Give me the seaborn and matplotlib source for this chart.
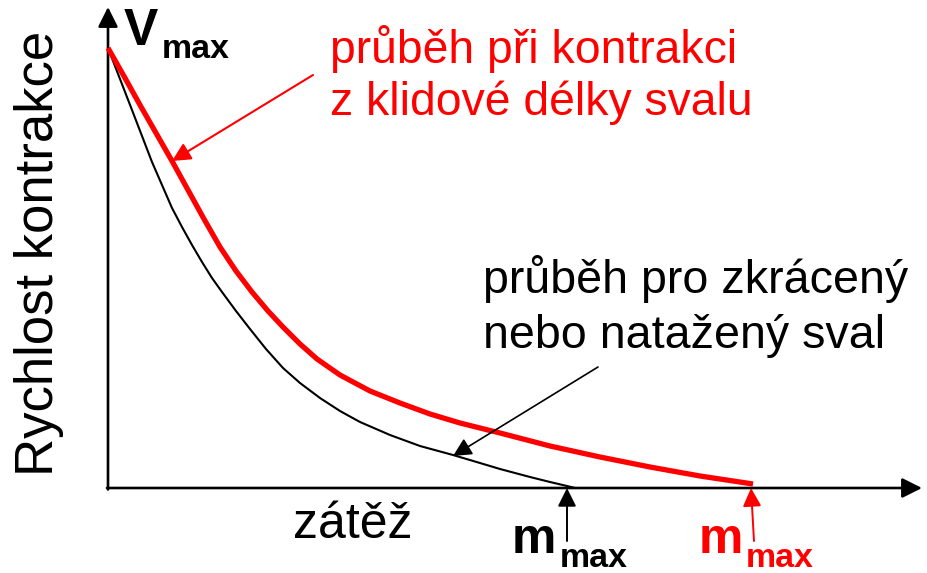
import matplotlib
matplotlib.use("Agg")
import matplotlib.pyplot as plt
import seaborn as sns
import pandas as pd

# ---- data (load vs. contraction speed, arbitrary units) ----
load_rest = [0, 17, 32, 48, 64, 80, 96, 112, 128, 144, 160, 175, 192, 209, 232,
             262, 292, 322, 352, 392, 442, 492, 542, 592, 645]
speed_rest = [440, 410, 383, 355, 327, 298, 269, 241, 217, 196, 177, 161, 144,
              129, 113, 97, 85, 74, 65, 55, 42, 31, 21, 12, 4]

load_short = [0, 12, 24, 34, 44, 54, 64, 74, 84, 94, 104, 114, 128, 142, 158,
              175, 192, 212, 232, 252, 282, 312, 345, 372, 392, 422, 442, 459, 467]
speed_short = [440, 409, 378, 352, 326, 303, 280, 261, 243, 226, 210, 196, 177,
               159, 139, 120, 105, 90, 77, 66, 53, 42, 33, 25, 19, 11, 6, 2, 0]

m_max_short = 459
m_max_rest = 643

ylabel_text = "Rychlost kontrakce"
xlabel_text = "zátěž"
red_label = "průběh při kontrakci\nz klidové délky svalu"
black_label = "průběh pro zkrácený\nnebo natažený sval"

sns.set_theme(style="white")
plt.rcParams["font.family"] = ["Liberation Sans", "DejaVu Sans"]

fig = plt.figure(figsize=(9.28, 5.73), dpi=100)
ax = fig.add_axes([0, 0, 1, 1])
ax.set_xlim(-108, 820)
ax.set_ylim(-85, 488)
ax.axis("off")


def P(xp, yp):
    return (xp - 108, 488 - yp)


df_rest = pd.DataFrame({"load": load_rest, "speed": speed_rest})
df_short = pd.DataFrame({"load": load_short, "speed": speed_short})
sns.lineplot(data=df_short, x="load", y="speed", ax=ax, color="black", lw=1.5,
             legend=False, zorder=3)
sns.lineplot(data=df_rest, x="load", y="speed", ax=ax, color="#ff0000", lw=3.8,
             legend=False, zorder=4, solid_capstyle="butt")

ax_kw = dict(arrowstyle="-|>", mutation_scale=30, lw=1.9, color="black",
             shrinkA=0, shrinkB=0)
# axes with arrows
ax.annotate("", xy=P(108, 7), xytext=P(108, 489.5), arrowprops=ax_kw, zorder=2)
ax.annotate("", xy=P(922, 488), xytext=P(107, 488), arrowprops=ax_kw, zorder=2)

# pointer arrows
ax.annotate("", xy=P(172, 161), xytext=P(313, 75),
            arrowprops=dict(arrowstyle="-|>", mutation_scale=28, lw=1.5,
                            color="#ff0000", shrinkA=0, shrinkB=0), zorder=5)
ax.annotate("", xy=P(453, 456), xytext=P(598, 367),
            arrowprops=dict(arrowstyle="-|>", mutation_scale=28, lw=1.2,
                            color="black", shrinkA=0, shrinkB=0), zorder=5)
ax.annotate("", xy=(m_max_short, 0), xytext=(m_max_short, 488 - 541),
            arrowprops=dict(arrowstyle="-|>", mutation_scale=28, lw=1.4,
                            color="black", shrinkA=0, shrinkB=0), zorder=5)
ax.annotate("", xy=(m_max_rest, 0), xytext=(m_max_rest + 3, 488 - 541),
            arrowprops=dict(arrowstyle="-|>", mutation_scale=28, lw=1.4,
                            color="#ff0000", shrinkA=0, shrinkB=0), zorder=5)

# texts
ax.text(*P(64, 253), ylabel_text, rotation=90, fontsize=38, ha="right",
        va="center", color="black")
ax.text(*P(293, 538), xlabel_text, fontsize=36, ha="left", va="baseline",
        color="black")

ax.text(*P(124, 45), "V", fontsize=37, fontweight="bold", ha="left",
        va="baseline", color="black")
ax.text(*P(162, 58), "max", fontsize=24.5, fontweight="bold", ha="left",
        va="baseline", color="black")

ax.text(*P(512, 553), "m", fontsize=36, fontweight="bold", ha="left",
        va="baseline", color="black")
ax.text(*P(560, 567), "max", fontsize=24.5, fontweight="bold", ha="left",
        va="baseline", color="black")
ax.text(*P(699, 553), "m", fontsize=36, fontweight="bold", ha="left",
        va="baseline", color="#ff0000")
ax.text(*P(746, 567), "max", fontsize=24.5, fontweight="bold", ha="left",
        va="baseline", color="#ff0000")

l1, l2 = red_label.split("\n")
ax.text(*P(330, 63), l1, fontsize=33.3, ha="left", va="baseline", color="#ff0000")
ax.text(*P(330, 115), l2, fontsize=33.3, ha="left", va="baseline", color="#ff0000")
b1, b2 = black_label.split("\n")
ax.text(*P(483, 293), b1, fontsize=33.6, ha="left", va="baseline", color="black")
ax.text(*P(483, 348), b2, fontsize=33.6, ha="left", va="baseline", color="black")

fig.savefig("out.png", dpi=100)
